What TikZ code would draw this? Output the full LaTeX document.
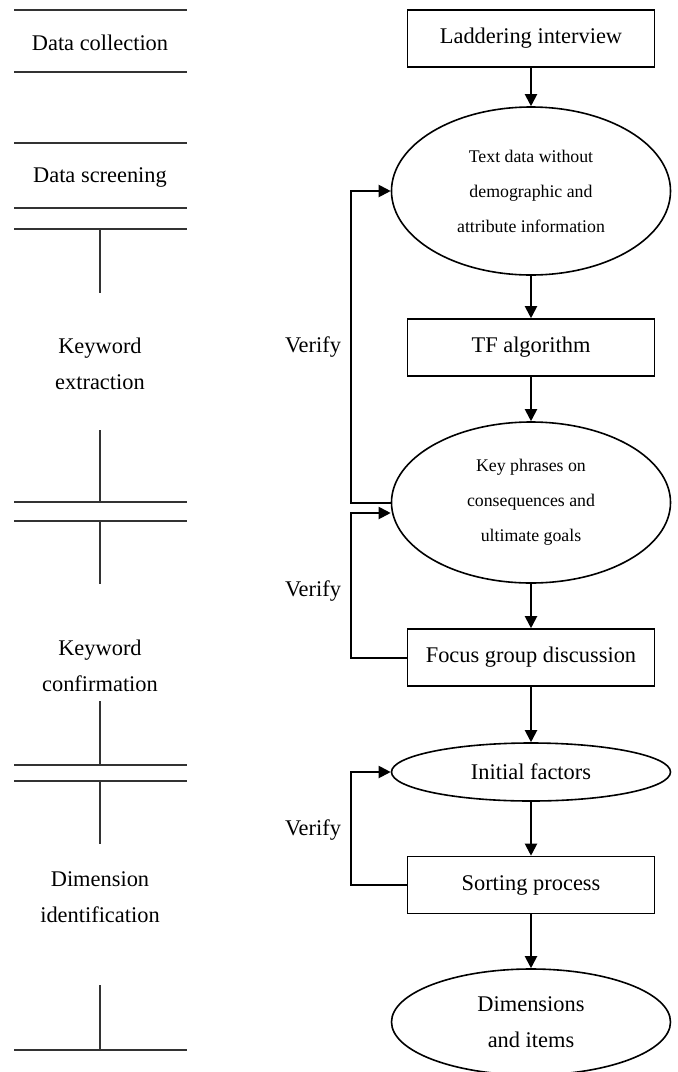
\documentclass[tikz,border=0pt]{standalone}
\usepackage{fontspec}
\setmainfont{Liberation Serif}
\usetikzlibrary{arrows.meta,positioning,shapes.geometric}

\begin{document}
\begin{tikzpicture}[x=0.5pt,y=-0.5pt,
  every node/.style={font=\fontsize{11.2}{18}\selectfont},
  box/.style={draw,line width=0.8pt,minimum width=123.5pt,minimum height=28.5pt,inner sep=0pt},
  oval/.style={draw,ellipse,line width=0.8pt,minimum width=139.5pt,inner sep=0pt,align=center},
  smalltxt/.style={font=\fontsize{8.9}{17.5}\selectfont},
  stage/.style={align=center},
  flow/.style={line width=1pt,-{Triangle[length=6pt,width=6pt]}},
  rulel/.style={line width=0.6pt,draw=black!80}]
 \useasboundingbox (0,0) rectangle (678,1072);
 % stage column
 \node[stage] (dc) at (100,43) {Data collection};
 \node[stage] (ds) at (100,177) {Data screening};
 \node[stage] (ke) at (100,364) {Keyword\\extraction};
 \node[stage] (kc) at (100,666) {Keyword\\confirmation};
 \node[stage] (di) at (100,897) {Dimension\\identification};
 \foreach \y in {10,72,143,208,229,502,521,765,781,1050}
   \draw[rulel] (14,\y) -- (187,\y);
 \foreach \a/\b in {229/293,430/502,521/584,701/765,781/844,985/1050}
   \draw[rulel] (100,\a) -- (100,\b);
 % process column
 \node[box] (lad) at (531,38.5) {Laddering interview};
 \node[oval,smalltxt,minimum height=84pt] (txt) at (531,191) {Text data without\\demographic and\\attribute information};
 \node[box] (tf) at (531,347.5) {TF algorithm};
 \node[oval,smalltxt,minimum height=80.5pt] (kp) at (531,502.5) {Key phrases on\\consequences and\\ultimate goals};
 \node[box] (fg) at (531,657.5) {Focus group discussion};
 \node[oval,minimum height=29pt] (ini) at (531,772) {Initial factors};
 \node[box] (sort) at (531,885) {Sorting process};
 \node[oval,minimum height=53pt] (dim) at (531,1022) {Dimensions\\and items};
 \foreach \a/\b in {lad/txt,txt/tf,tf/kp,kp/fg,fg/ini,ini/sort,sort/dim}
   \draw[flow] (\a) -- (\b);
 % verify loops
 \draw[flow] (kp.west) -- ++(-40,0) |- (txt.west);
 \draw[flow] (fg.west) -- ++(-56,0) |- ([yshift=-5.25pt]kp.west);
 \draw[flow] (sort.west) -- ++(-56,0) |- (ini.west);
 \node (v1) at (313,347) {Verify};
 \node (v2) at (313,591) {Verify};
 \node (v3) at (313,830) {Verify};
\end{tikzpicture}
\end{document}
